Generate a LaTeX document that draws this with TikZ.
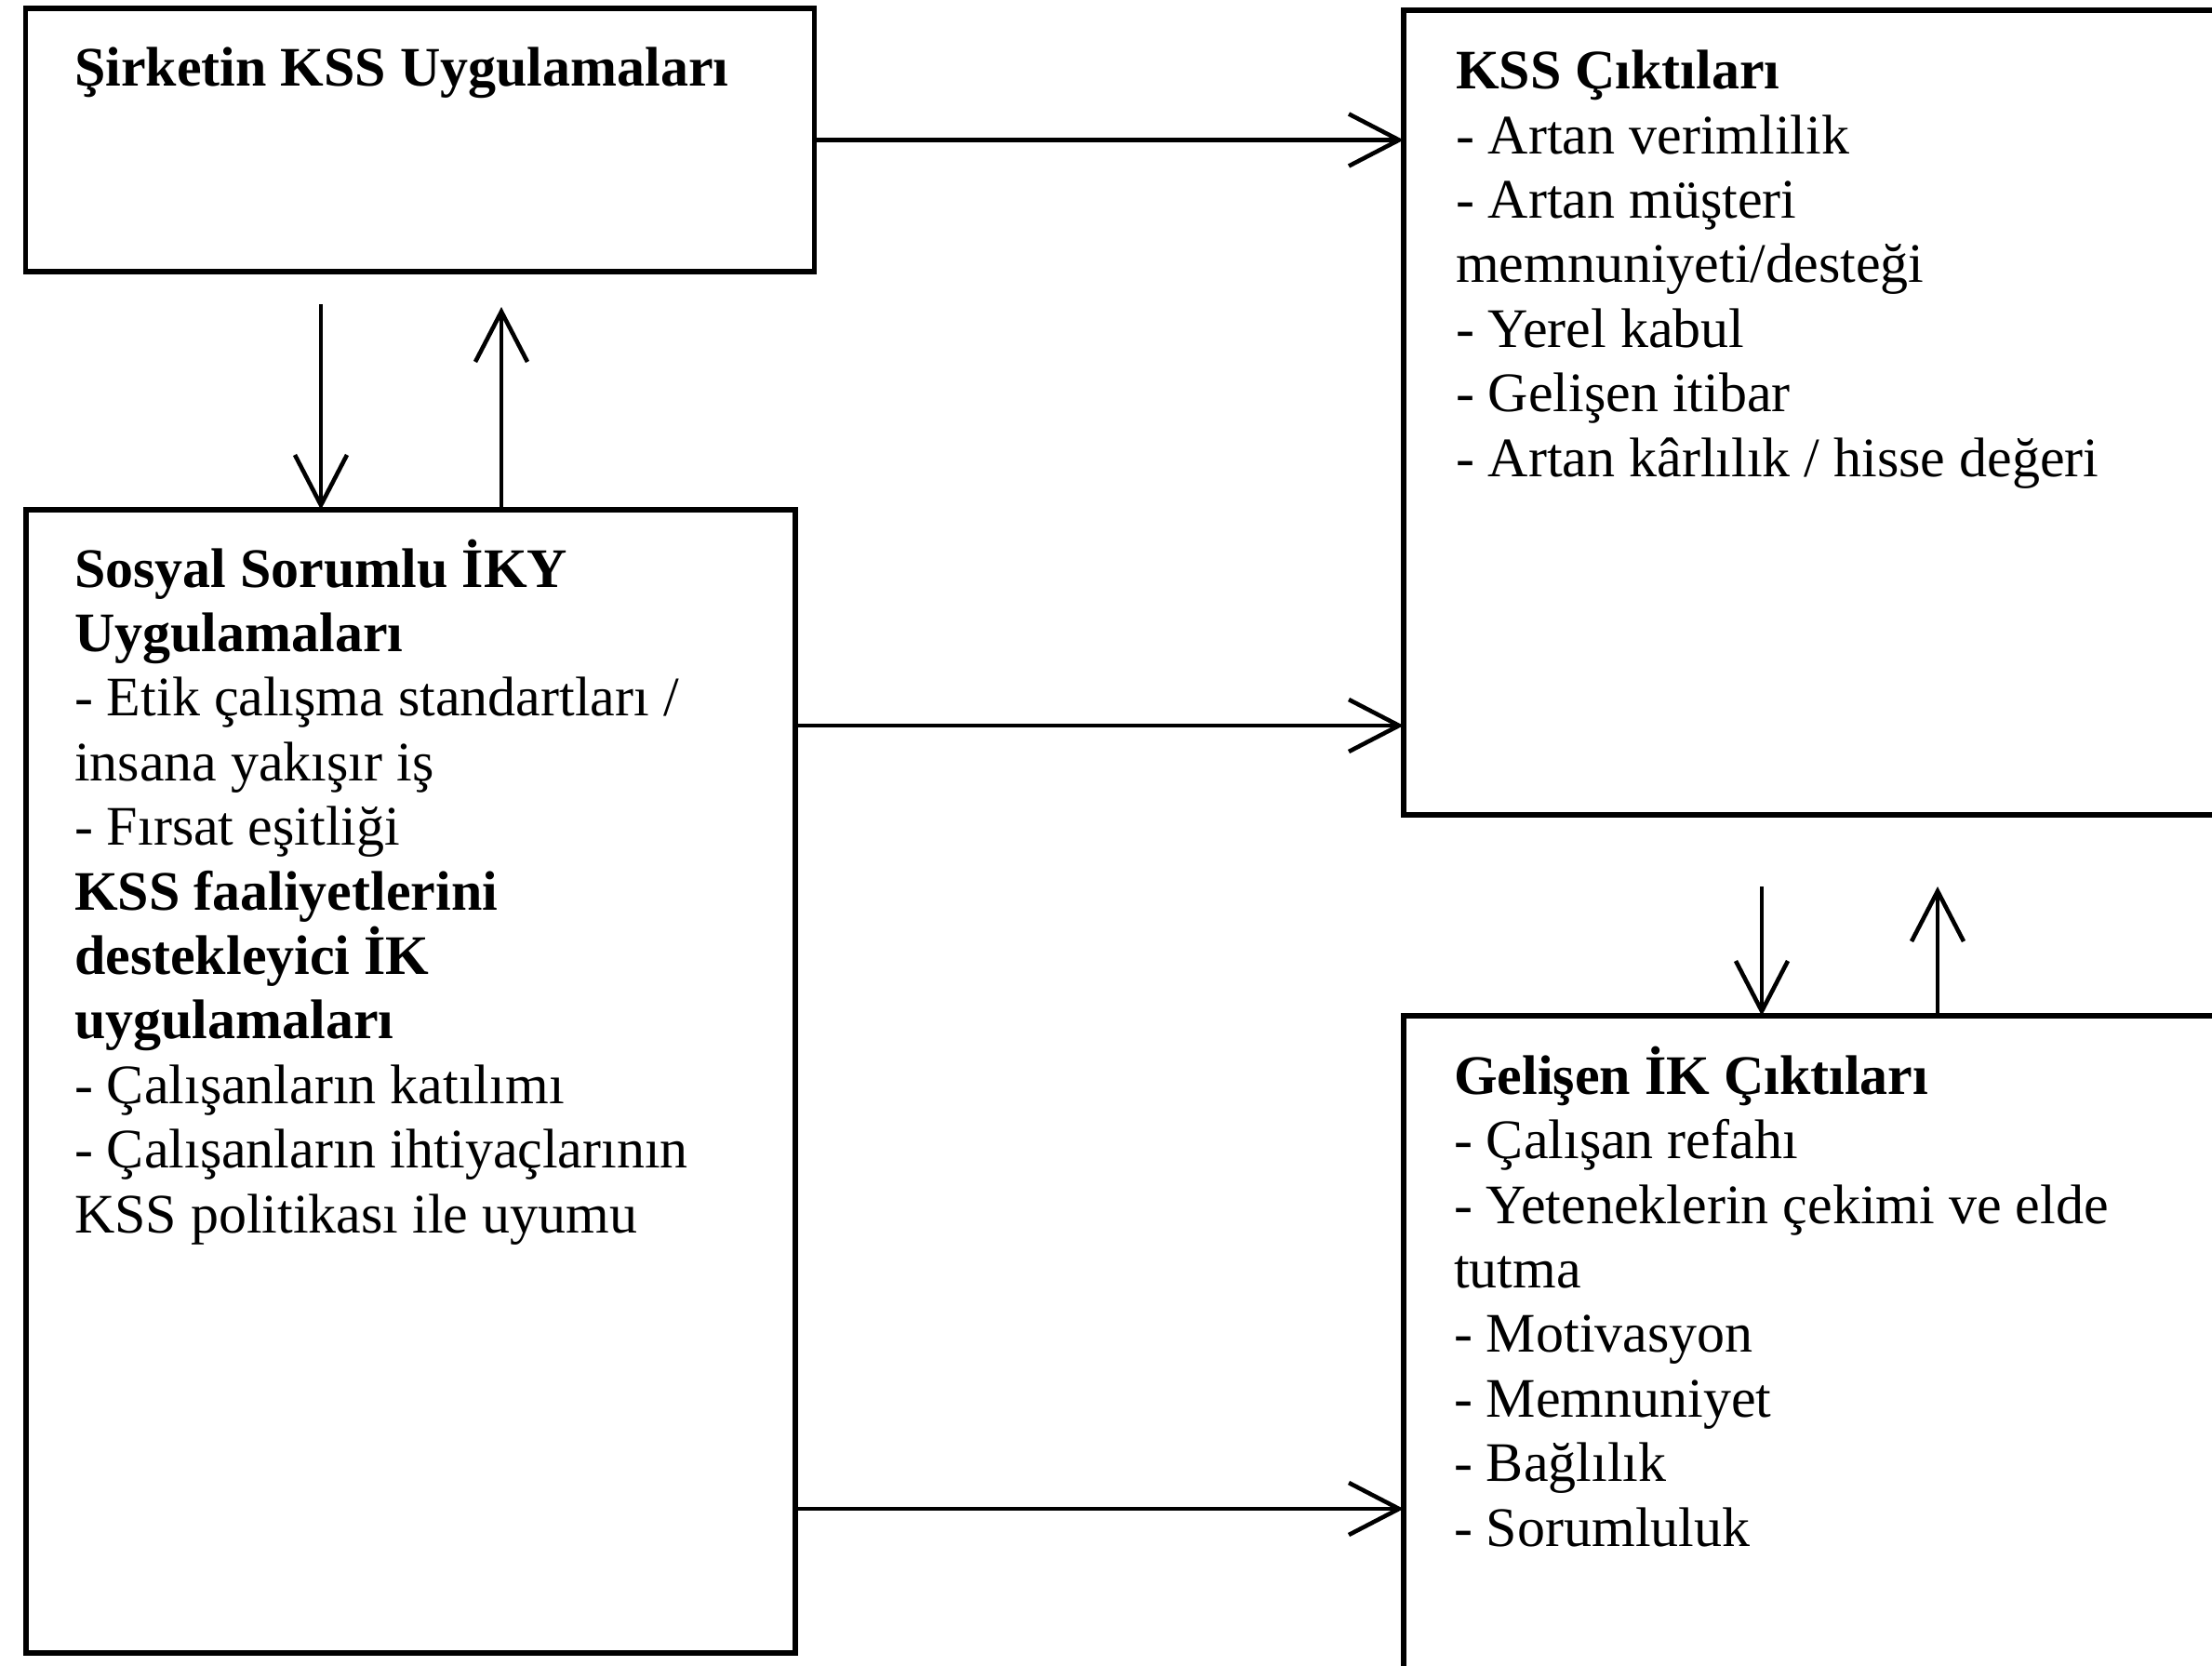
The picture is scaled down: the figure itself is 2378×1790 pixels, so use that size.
\documentclass[tikz,border=0pt]{standalone}
\usepackage{fontspec}
\setmainfont{Liberation Serif}
\usetikzlibrary{arrows.meta}
\begin{document}
\begin{tikzpicture}[x=0.25pt,y=-0.25pt,
  box/.style={draw=black,line width=1.3pt,inner sep=0pt,outer sep=0pt,anchor=north west,fill=none},
  txt/.style={anchor=base west,align=left,inner sep=0pt,outer sep=0pt,
    font=\fontsize{15pt}{17.35pt}\selectfont},
  arr/.style={line width=1.15pt,-{Straight Barb[length=13.5pt,width=14pt,line width=1.15pt]}}]
\useasboundingbox (0,0) rectangle (2378,1790);
\clip (0,0) rectangle (2378,1790);
\fill[white] (0,0) rectangle (2378,1790);
% boxes
\node[box,minimum width=211.9pt,minimum height=70.75pt] (A) at (27.5,9) {};
\node[box,minimum width=206.75pt,minimum height=307.25pt] (B) at (28,548) {};
\node[box,minimum width=222.75pt,minimum height=216.25pt] (C) at (1509,11) {};
\node[box,minimum width=222.75pt,minimum height=189.5pt] (D) at (1509,1092) {};
% texts (anchored at the baseline of their last line)
\node[txt] (tA) at (80,92) {\textbf{Şirketin KSS Uygulamaları}};
\node[txt] (tC) at (1565,512) {\textbf{KSS Çıktıları}\\
- Artan verimlilik\\
- Artan müşteri\\
memnuniyeti/desteği\\
- Yerel kabul\\
- Gelişen itibar\\
- Artan kârlılık / hisse değeri};
\node[txt] (tB) at (80,1325) {\textbf{Sosyal Sorumlu İKY}\\
\textbf{Uygulamaları}\\
- Etik çalışma standartları /\\
insana yakışır iş\\
- Fırsat eşitliği\\
\textbf{KSS faaliyetlerini}\\
\textbf{destekleyici İK}\\
\textbf{uygulamaları}\\
- Çalışanların katılımı\\
- Çalışanların ihtiyaçlarının\\
KSS politikası ile uyumu};
\node[txt] (tD) at (1563,1662) {\textbf{Gelişen İK Çıktıları}\\
- Çalışan refahı\\
- Yeteneklerin çekimi ve elde\\
tutma\\
- Motivasyon\\
- Memnuniyet\\
- Bağlılık\\
- Sorumluluk};
% connectors
\draw[arr] (A.east) -- (A.east -| C.west);
\draw[arr] (B.east |- 0,780) -- (C.west |- 0,780);
\draw[arr] (B.east |- 0,1622) -- (D.west |- 0,1622);
\coordinate (d1) at (345,327);
\coordinate (u1) at (539,330);
\draw[arr] (d1) -- (d1 |- B.north);
\draw[arr] (u1 |- B.north) -- (u1);
\coordinate (d2) at (1894,953);
\coordinate (u2) at (2083,953);
\draw[arr] (d2) -- (d2 |- D.north);
\draw[arr] (u2 |- D.north) -- (u2);
\end{tikzpicture}
\end{document}
